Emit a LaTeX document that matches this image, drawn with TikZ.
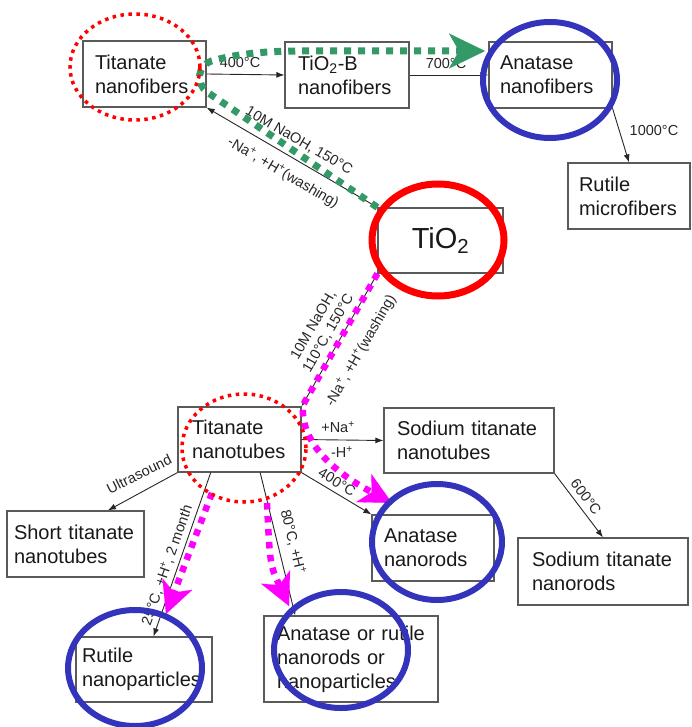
\documentclass[tikz,border=0pt]{standalone}
\usepackage{fontspec}
\setmainfont{Liberation Sans}
\usepackage{xcolor}
\usetikzlibrary{arrows.meta,positioning}
\pgfdeclarelayer{edgelayer}
\pgfdeclarelayer{nodelayer}
\pgfsetlayers{nodelayer,main,edgelayer}
\definecolor{ringblue}{RGB}{51,51,187}
\definecolor{routegreen}{RGB}{51,153,102}
\definecolor{routepink}{RGB}{255,0,255}
\definecolor{boxgray}{RGB}{90,90,90}
\tikzset{
	box/.style={draw=boxgray, line width=1.2pt, align=left, text=black!90, font=\fontsize{20}{24}\selectfont},
	lbl/.style={text=black!85, font=\fontsize{14.5}{17}\selectfont, inner sep=0pt},
	rxn/.style={line width=0.9pt, color=black!85},
	ring/.style={line width=6pt, color=ringblue},
	dotring/.style={line width=3.5pt, color=red, dash pattern=on 3.5pt off 4.5pt},
	greenroute/.style={line width=7pt, color=routegreen, dash pattern=on 7pt off 7pt, -{Stealth[length=36pt, width=35pt, inset=10pt, line width=0.1pt]}},
	pinkroute/.style={line width=6.5pt, color=routepink, dash pattern=on 6.5pt off 6.5pt, -{Stealth[length=32pt, width=32pt, inset=9pt, line width=0.1pt]}},
}
\begin{document}
\begin{tikzpicture}[x=1pt, y=-1pt, >={Latex[length=8pt, width=6pt]}]
	\useasboundingbox (0,0) rectangle (691,727);
	\begin{pgfonlayer}{nodelayer}
		\node [box, text width=99pt, inner xsep=12pt, minimum height=66pt] (0) at (144.5, 74) {Titanate\\nanofibers};
		\node [box, text width=98pt, inner xsep=13pt, minimum height=66pt] (1) at (347, 75) {TiO\textsubscript{2}-B\\nanofibers};
		\node [box, text width=101pt, inner xsep=11pt, minimum height=66pt] (2) at (550.5, 75) {Anatase\\nanofibers};
		\node [box, text width=100pt, inner xsep=11pt, minimum height=66pt] (3) at (629, 196) {Rutile\\microfibers};
		\node [box, align=center, minimum width=125pt, minimum height=65pt, font=\fontsize{29}{34}\selectfont] (4) at (440.5, 240.5) {TiO\textsubscript{2}};
		\node [box, text width=95pt, inner xsep=14pt, minimum height=65pt] (5) at (239.5, 439.5) {Titanate\\nanotubes};
		\node [box, text width=144pt, inner xsep=13pt, minimum height=65pt] (6) at (469, 440.5) {Sodium titanate\\nanotubes};
		\node [box, text width=123pt, inner xsep=7pt, minimum height=66pt] (7) at (75.5, 544) {Short titanate\\nanotubes};
		\node [box, text width=98pt, inner xsep=12pt, minimum height=66pt] (8) at (433, 548) {Anatase\\nanorods};
		\node [box, text width=142pt, inner xsep=14pt, minimum height=67pt] (9) at (603, 571.5) {Sodium titanate\\nanorods};
		\node [box, text width=124pt, inner xsep=6pt, minimum height=65pt] (10) at (144, 669.5) {Rutile\\nanoparticles};
		\node [box, text width=148pt, inner xsep=13pt, minimum height=86pt] (11) at (351, 659) {Anatase or rutile\\nanorods or\\nanoparticles};
		\node [lbl] (12) at (240, 63) {400°C};
		\node [lbl] (13) at (446, 64) {700°C};
		\node [lbl] (14) at (654, 131) {1000°C};
		\node [lbl, rotate=-30.4] (15) at (299, 141) {10M NaOH, 150°C};
		\node [lbl, rotate=-30.4] (16) at (283, 173) {-Na\textsuperscript{+}, +H\textsuperscript{+}(washing)};
		\node [lbl, rotate=60.1, align=center] (17) at (321, 329) {10M NaOH,\\110°C, 150°C};
		\node [lbl, rotate=60.1] (18) at (361, 351) {-Na\textsuperscript{+}, +H\textsuperscript{+}(washing)};
		\node [lbl] (19) at (338, 427) {+Na\textsuperscript{+}};
		\node [lbl] (20) at (342, 452) {-H\textsuperscript{+}};
		\node [lbl, rotate=-31.2] (21) at (337, 482) {400°C};
		\node [lbl, rotate=26.2] (22) at (139, 474) {Ultrasound};
		\node [lbl, rotate=70.6] (23) at (167, 565) {25°C, +H\textsuperscript{+}, 2 month};
		\node [lbl, rotate=-76.3] (24) at (293, 542) {80°C, +H\textsuperscript{+}};
		\node [lbl, rotate=-53] (25) at (586, 497) {600°C};
		\coordinate (26) at (207, 92);
		\coordinate (27) at (215, 60);
		\coordinate (28) at (300, 51);
		\coordinate (29) at (485, 51);
		\coordinate (30) at (303, 405);
		\coordinate (31) at (392, 503);
		\coordinate (32) at (212, 493);
		\coordinate (33) at (166, 614);
		\coordinate (34) at (267, 503);
		\coordinate (35) at (289, 606);
	\end{pgfonlayer}
	\begin{pgfonlayer}{edgelayer}
		\draw [rxn, ->] (0.east) to (1.west);
		\draw [rxn, ->] (1.east) to (2.west);
		\draw [rxn, ->] (2.south east) to (3.north);
		\draw [rxn, <-] (0.south east) to (4.north west);
		\draw [rxn, <-] (5.north east) to (4.south west);
		\draw [rxn, ->] (5.east) to (6.west);
		\draw [rxn, ->] (5.south east) to (8.north west);
		\draw [rxn, ->] (5.south west) to (7.46);
		\draw [rxn, ->] (5.-131) to (10.74);
		\draw [rxn, ->] (5.-58) to (11.142);
		\draw [rxn, ->] (6.south east) to (9.north);
		% routes
		\draw [greenroute] (4.north west) to (26) .. controls (196, 84) and (196, 64) .. (27) .. controls (235, 55) and (260, 51) .. (28) to (29);
		\draw [pinkroute] (4.south west) to (30) .. controls (300, 440) and (330, 470) .. (31);
		\draw [pinkroute] (32) to (33);
		\draw [pinkroute] (34) .. controls (270, 565) .. (35);
		% rings
		\draw [dotring] (135, 67) ellipse [x radius=65pt, y radius=53pt];
		\draw [dotring] (244, 448) ellipse [x radius=62pt, y radius=54pt];
		\draw [line width=7pt, color=red] (438, 240) ellipse [x radius=66pt, y radius=56pt];
		\draw [ring] (550, 80) ellipse [x radius=67pt, y radius=58pt];
		\draw [ring] (437, 542) ellipse [x radius=65pt, y radius=58pt];
		\draw [ring] (135, 668) ellipse [x radius=67pt, y radius=58pt];
		\draw [ring] (341, 650) ellipse [x radius=67pt, y radius=58pt];
	\end{pgfonlayer}
\end{tikzpicture}
\end{document}
